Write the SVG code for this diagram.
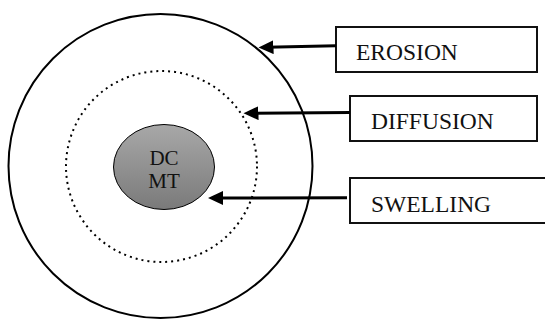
<svg xmlns="http://www.w3.org/2000/svg" width="545" height="320" viewBox="0 0 545 320">
<style>
.lbl{font-family:"Liberation Serif","Times New Roman",serif;font-size:23.5px;fill:#111}
.core{font-family:"Liberation Serif","Times New Roman",serif;font-size:21px;fill:#111;text-anchor:middle}
.box{fill:#fff;stroke:#111;stroke-width:2}
.conn{stroke:#000;stroke-width:3;fill:none}
</style>
<defs>
<linearGradient id="g" x1="0" y1="0" x2="0" y2="1">
<stop offset="0" stop-color="#a8a8a8"/>
<stop offset="1" stop-color="#7a7a7a"/>
</linearGradient>
<marker id="ah" viewBox="0 0 15 14" refX="7" refY="7" markerWidth="15" markerHeight="14" markerUnits="userSpaceOnUse" orient="auto">
<path d="M0,0 L15,7 L0,14 z" fill="#000"/>
</marker>
</defs>
<rect width="545" height="320" fill="#fff"/>
<g id="outer-matrix">
<circle cx="160.5" cy="166" r="152" fill="none" stroke="#000" stroke-width="2"/>
</g>
<g id="diffusion-front">
<circle cx="161.5" cy="166.5" r="95.5" fill="none" stroke="#000" stroke-width="2" stroke-dasharray="2 4"/>
</g>
<g id="core">
<ellipse cx="164" cy="167" rx="50.5" ry="42.5" fill="url(#g)" stroke="#000" stroke-width="1"/>
<text class="core" x="164" y="165">DC</text>
<text class="core" x="164" y="187.7">MT</text>
</g>
<g id="erosion">
<rect class="box" x="336" y="27" width="201" height="45" stroke="#333" stroke-width="1.5"/>
<text class="lbl" x="356" y="60">EROSION</text>
</g>
<g id="diffusion">
<rect class="box" x="350" y="96" width="187" height="45"/>
<text class="lbl" x="371" y="129">DIFFUSION</text>
</g>
<g id="swelling">
<rect class="box" x="350" y="178" width="220" height="45"/>
<text class="lbl" x="371" y="211.7">SWELLING</text>
</g>
<g id="connectors">
<line class="conn" x1="336" y1="45.7" x2="266.5" y2="47.3" marker-end="url(#ah)"/>
<line class="conn" x1="350" y1="112.5" x2="251.5" y2="113.2" marker-end="url(#ah)"/>
<line class="conn" x1="347" y1="197.7" x2="216" y2="198" marker-end="url(#ah)"/>
</g>
</svg>
